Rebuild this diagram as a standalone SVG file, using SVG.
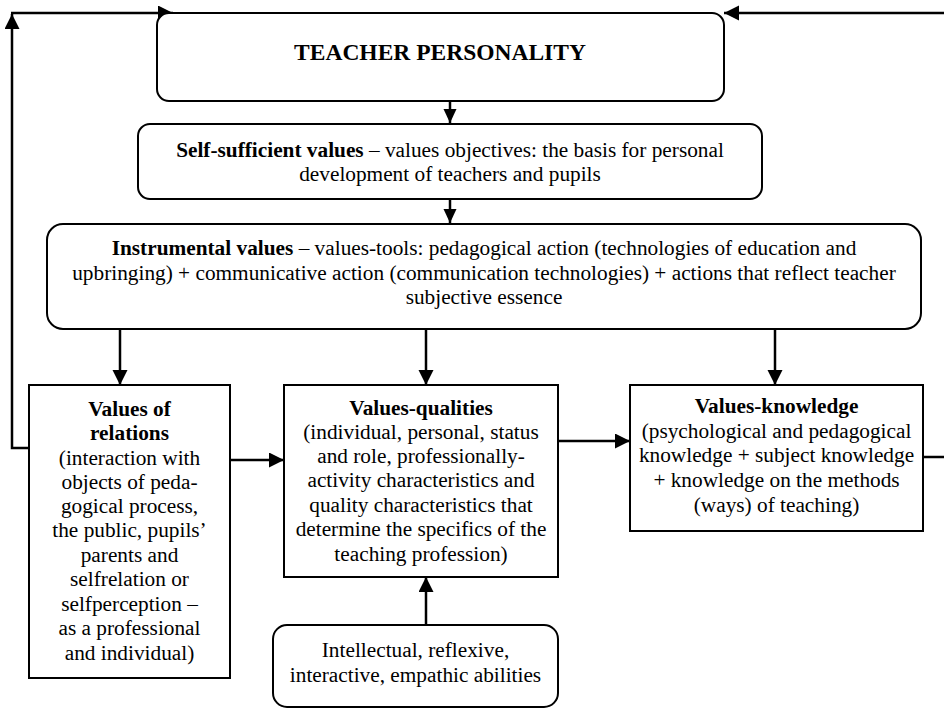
<svg xmlns="http://www.w3.org/2000/svg" width="944" height="709" viewBox="0 0 944 709">
  <style>
    .box { fill: #ffffff; stroke: #000000; stroke-width: 2; }
    .wire { fill: none; stroke: #000000; stroke-width: 2.5; }
    .lbl { font-family: "Liberation Serif", "Times New Roman", serif; font-size: 21.3px; fill: #000000; text-anchor: middle; }
    .title { font-size: 23.5px; font-weight: bold; }
    .b { font-weight: bold; }
  </style>
  <defs>
    <marker id="arr" markerUnits="userSpaceOnUse" markerWidth="16" markerHeight="16" refX="15" refY="7.5" orient="auto">
      <path d="M0,0 L15,7.5 L0,15 z" fill="#000000"/>
    </marker>
    <marker id="arrS" markerUnits="userSpaceOnUse" markerWidth="16" markerHeight="14" refX="14" refY="6.5" orient="auto">
      <path d="M0,0 L14,6.5 L0,13 z" fill="#000000"/>
    </marker>
  </defs>

  <g id="connectors">
    <!-- feedback loop on the left, back up to the top node -->
    <polyline class="wire" points="29,448 12,448 12,14" marker-end="url(#arr)"/>
    <line class="wire" x1="11" y1="13" x2="173" y2="13" marker-end="url(#arr)"/>
    <!-- feedback loop on the right -->
    <line class="wire" x1="944" y1="13" x2="724" y2="13" marker-end="url(#arr)"/>
    <line class="wire" x1="923" y1="457" x2="944" y2="457"/>
    <!-- vertical chain -->
    <line class="wire" x1="450" y1="101" x2="450" y2="123" marker-end="url(#arrS)"/>
    <line class="wire" x1="450" y1="199" x2="450" y2="223" marker-end="url(#arrS)"/>
    <line class="wire" x1="120" y1="329" x2="120" y2="385" marker-end="url(#arr)"/>
    <line class="wire" x1="426" y1="329" x2="426" y2="385" marker-end="url(#arr)"/>
    <line class="wire" x1="775" y1="329" x2="775" y2="385" marker-end="url(#arr)"/>
    <!-- horizontal links between value groups -->
    <line class="wire" x1="230" y1="460" x2="284" y2="460" marker-end="url(#arr)"/>
    <line class="wire" x1="558" y1="441" x2="630" y2="441" marker-end="url(#arr)"/>
    <!-- abilities feed the qualities -->
    <line class="wire" x1="426" y1="625" x2="426" y2="577" marker-end="url(#arr)"/>
  </g>

  <g id="teacher-personality">
    <rect class="box" x="157" y="13" width="567" height="88" rx="12"/>
    <text class="lbl title" x="440" y="60">TEACHER PERSONALITY</text>
  </g>

  <g id="self-sufficient-values">
    <rect class="box" x="138" y="124" width="624" height="75" rx="12"/>
    <text class="lbl" x="450" y="157"><tspan class="b">Self-sufficient values</tspan> – values objectives: the basis for personal</text>
    <text class="lbl" x="450" y="181">development of teachers and pupils</text>
  </g>

  <g id="instrumental-values">
    <rect class="box" x="47" y="224" width="874" height="105" rx="16"/>
    <text class="lbl" x="484" y="255"><tspan class="b">Instrumental values</tspan> – values-tools: pedagogical action (technologies of education and</text>
    <text class="lbl" x="484" y="280">upbringing) + communicative action (communication technologies) + actions that reflect teacher</text>
    <text class="lbl" x="484" y="304">subjective essence</text>
  </g>

  <g id="values-of-relations">
    <rect class="box" x="29" y="385" width="201" height="293"/>
    <text class="lbl b" x="129.5" y="416">Values of</text>
    <text class="lbl b" x="129.5" y="440">relations</text>
    <text class="lbl" x="129.5" y="465">(interaction with</text>
    <text class="lbl" x="129.5" y="489">objects of peda-</text>
    <text class="lbl" x="129.5" y="513">gogical process,</text>
    <text class="lbl" x="129.5" y="537">the public, pupils’</text>
    <text class="lbl" x="129.5" y="562">parents and</text>
    <text class="lbl" x="129.5" y="586">selfrelation or</text>
    <text class="lbl" x="129.5" y="611">selfperception –</text>
    <text class="lbl" x="129.5" y="635">as a professional</text>
    <text class="lbl" x="129.5" y="660">and individual)</text>
  </g>

  <g id="values-qualities">
    <rect class="box" x="284" y="385" width="274" height="192"/>
    <text class="lbl b" x="421" y="415">Values-qualities</text>
    <text class="lbl" x="421" y="439">(individual, personal, status</text>
    <text class="lbl" x="421" y="463">and role, professionally-</text>
    <text class="lbl" x="421" y="487">activity characteristics and</text>
    <text class="lbl" x="421" y="512">quality characteristics that</text>
    <text class="lbl" x="421" y="536">determine the specifics of the</text>
    <text class="lbl" x="421" y="561">teaching profession)</text>
  </g>

  <g id="values-knowledge">
    <rect class="box" x="630" y="385" width="293" height="146"/>
    <text class="lbl b" x="776.5" y="413">Values-knowledge</text>
    <text class="lbl" x="776.5" y="438">(psychological and pedagogical</text>
    <text class="lbl" x="776.5" y="462">knowledge + subject knowledge</text>
    <text class="lbl" x="776.5" y="487">+ knowledge on the methods</text>
    <text class="lbl" x="776.5" y="512">(ways) of teaching)</text>
  </g>

  <g id="abilities">
    <rect class="box" x="273" y="625" width="285" height="82" rx="14"/>
    <text class="lbl" x="415.5" y="657">Intellectual, reflexive,</text>
    <text class="lbl" x="415.5" y="682">interactive, empathic abilities</text>
  </g>
</svg>
